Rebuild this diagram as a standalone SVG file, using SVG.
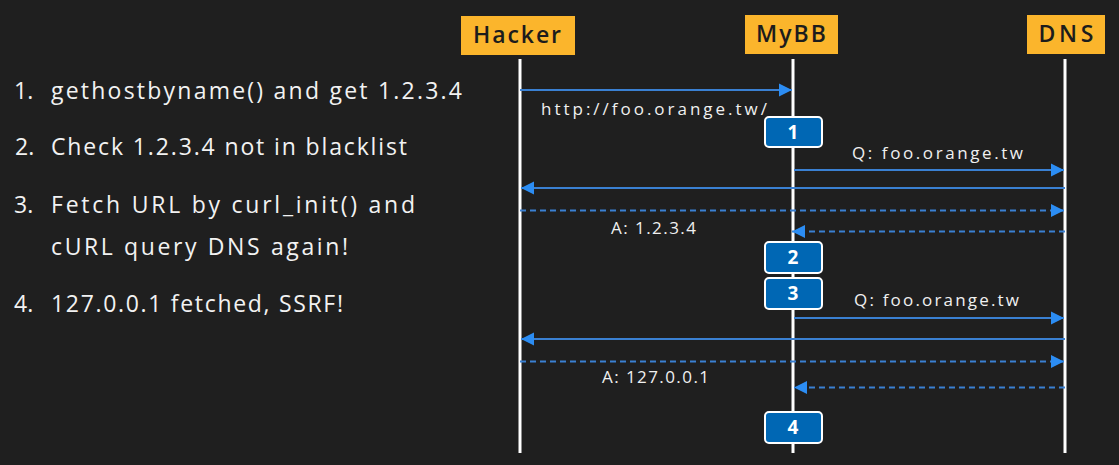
<svg xmlns="http://www.w3.org/2000/svg" width="1119" height="465" viewBox="0 0 1119 465">
<defs>
<style>
.hdr{fill:#fbb52c}
.hdrt{font-family:"Open Sans","Noto Sans",sans-serif;font-size:23px;font-weight:600;fill:#1c1c1c;text-anchor:middle}
.life{stroke:#ffffff;stroke-width:3}
.step{fill:#0067b4;stroke:#ffffff;stroke-width:2}
.stept{font-family:"Open Sans","Noto Sans",sans-serif;font-size:19px;font-weight:bold;fill:#ffffff;text-anchor:middle}
.msg{stroke:#3a80d2;stroke-width:2;fill:none}
.dash{stroke-dasharray:6 4}
.lbl{font-family:"Open Sans","Noto Sans",sans-serif;font-size:17px;fill:#f0f0f0}
.list{font-family:"Open Sans","Noto Sans",sans-serif;font-size:23px;fill:#f2f2f2}
</style>
<marker id="ah" markerUnits="userSpaceOnUse" markerWidth="14" markerHeight="14" refX="13" refY="6.5" orient="auto" viewBox="0 0 14 13">
<path d="M0,0 L13,6.5 L0,13 z" fill="#2c8df3"/>
</marker>
</defs>
<rect width="1119" height="465" fill="#1f1f1f"/>

<g id="list">
<text class="list" x="14" y="99">1.</text>
<text class="list" x="51" y="99" textLength="411" lengthAdjust="spacing">gethostbyname() and get 1.2.3.4</text>
<text class="list" x="15" y="155">2.</text>
<text class="list" x="51" y="155" textLength="356" lengthAdjust="spacing">Check 1.2.3.4 not in blacklist</text>
<text class="list" x="14" y="213">3.</text>
<text class="list" x="51" y="213" textLength="364" lengthAdjust="spacing">Fetch URL by curl_init() and</text>
<text class="list" x="51" y="255" textLength="297" lengthAdjust="spacing">cURL query DNS again!</text>
<text class="list" x="14" y="312">4.</text>
<text class="list" x="51" y="312" textLength="292" lengthAdjust="spacing">127.0.0.1 fetched, SSRF!</text>
</g>

<g id="hacker">
<line class="life" x1="520" y1="59" x2="520" y2="453"/>
<rect class="hdr" x="461" y="16" width="114" height="39"/>
<text class="hdrt" x="517" y="43" textLength="88" lengthAdjust="spacing">Hacker</text>
</g>
<g id="mybb">
<line class="life" x1="793" y1="59" x2="793" y2="453"/>
<rect class="hdr" x="745" y="15" width="93" height="39"/>
<text class="hdrt" x="791" y="42" textLength="70" lengthAdjust="spacing">MyBB</text>
</g>
<g id="dns">
<line class="life" x1="1065" y1="59" x2="1065" y2="453"/>
<rect class="hdr" x="1027" y="15" width="78" height="39"/>
<text class="hdrt" x="1066" y="42" textLength="55" lengthAdjust="spacing">DNS</text>
</g>

<g id="connectors">
<line class="msg" x1="520" y1="90" x2="792" y2="90" marker-end="url(#ah)"/>
<line class="msg" x1="794" y1="170" x2="1064" y2="170" marker-end="url(#ah)"/>
<line class="msg" x1="1065" y1="188" x2="521" y2="188" marker-end="url(#ah)"/>
<line class="msg dash" x1="520" y1="210.5" x2="1064" y2="210.5" marker-end="url(#ah)"/>
<line class="msg dash" x1="1065" y1="231.5" x2="792" y2="231.5" marker-end="url(#ah)"/>
<line class="msg" x1="794" y1="318" x2="1064" y2="318" marker-end="url(#ah)"/>
<line class="msg" x1="1065" y1="339" x2="521" y2="339" marker-end="url(#ah)"/>
<line class="msg dash" x1="520" y1="361.5" x2="1064" y2="361.5" marker-end="url(#ah)"/>
<line class="msg dash" x1="1065" y1="387.5" x2="794" y2="387.5" marker-end="url(#ah)"/>
</g>

<g id="labels">
<text class="lbl" x="541" y="115" textLength="226" lengthAdjust="spacing">http://foo.orange.tw/</text>
<text class="lbl" x="852" y="159" textLength="171" lengthAdjust="spacing">Q: foo.orange.tw</text>
<text class="lbl" x="611" y="234" textLength="85" lengthAdjust="spacing">A: 1.2.3.4</text>
<text class="lbl" x="854" y="306" textLength="165" lengthAdjust="spacing">Q: foo.orange.tw</text>
<text class="lbl" x="602" y="383" textLength="107" lengthAdjust="spacing">A: 127.0.0.1</text>
</g>

<g id="step1">
<rect class="step" x="765" y="117" width="57" height="30" rx="4"/>
<text class="stept" x="793" y="139">1</text>
</g>
<g id="step2">
<rect class="step" x="765" y="242" width="57" height="31" rx="4"/>
<text class="stept" x="793" y="264">2</text>
</g>
<g id="step3">
<rect class="step" x="765" y="278" width="57" height="31" rx="4"/>
<text class="stept" x="793" y="300">3</text>
</g>
<g id="step4">
<rect class="step" x="765" y="412" width="57" height="31" rx="4"/>
<text class="stept" x="793" y="434">4</text>
</g>
</svg>
